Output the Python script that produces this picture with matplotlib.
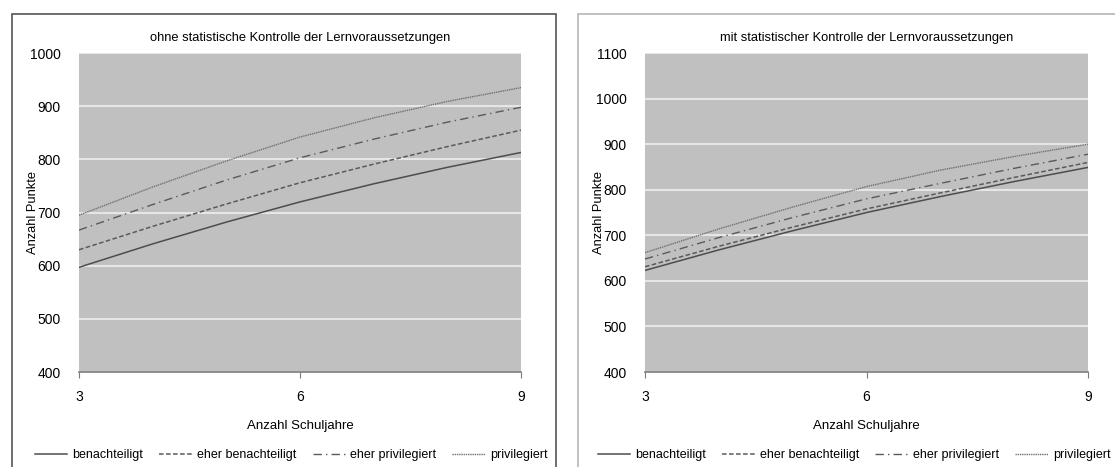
import matplotlib
matplotlib.use('Agg')
import matplotlib.pyplot as plt
from matplotlib.patches import Rectangle

plt.rcParams['font.family'] = ['Liberation Sans', 'DejaVu Sans']

years = [3, 4, 5, 6, 7, 8, 9]
labels = ['benachteiligt', 'eher benachteiligt', 'eher privilegiert', 'privilegiert']

# ohne statistische Kontrolle
left_ben = [597, 641, 682, 720, 754, 785, 813]
left_eben = [630, 674, 716, 756, 791, 824, 855]
left_epriv = [667, 715, 761, 803, 838, 870, 898]
left_priv = [695, 748, 797, 842, 878, 909, 935]

# mit statistischer Kontrolle
right_ben = [623, 668, 710, 750, 785, 818, 849]
right_eben = [631, 676, 718, 758, 793, 827, 860]
right_epriv = [648, 695, 739, 780, 814, 847, 878]
right_priv = [662, 714, 762, 807, 843, 873, 900]

titles = ['ohne statistische Kontrolle der Lernvoraussetzungen',
          'mit statistischer Kontrolle der Lernvoraussetzungen']
ylims = [(400, 1000), (400, 1100)]
legend_x = [0.48, 0.472]

styles = [
    dict(color='#4d4d4d', linestyle='-', linewidth=1.1),
    dict(color='#5a5a5a', linestyle=(0, (3, 1.6)), linewidth=1.1),
    dict(color='#5a5a5a', linestyle=(0, (6, 3, 1, 3)), linewidth=1.0),
    dict(color='#707070', linestyle=(0, (1, 0.6)), linewidth=1.0),
]

fig = plt.figure(figsize=(11.15, 4.67), dpi=100)

# panel frames
fig.patches.append(Rectangle((12 / 1115, -0.1), 544 / 1115, 1.07, transform=fig.transFigure,
                             fill=False, edgecolor='#555555', linewidth=1.2))
fig.patches.append(Rectangle((578 / 1115, -0.1), 0.6, 1.07, transform=fig.transFigure,
                             fill=False, edgecolor='#b5b5b5', linewidth=1.2))

axes = [fig.add_axes([79 / 1115, 0.2034, 442 / 1115, 0.683]),
        fig.add_axes([645 / 1115, 0.2034, 443 / 1115, 0.683])]
data = [[left_ben, left_eben, left_epriv, left_priv],
        [right_ben, right_eben, right_epriv, right_priv]]

for ax, series, title, ylim, lx in zip(axes, data, titles, ylims, legend_x):
    ax.set_facecolor('#c0c0c0')
    for vals, lab, st in zip(series, labels, styles):
        ax.plot(years, vals, label=lab, **st)
    ax.set_xlim(3, 9)
    ax.set_ylim(*ylim)
    ax.set_xticks([3, 6, 9])
    ax.set_yticks(range(ylim[0], ylim[1] + 1, 100))
    ax.yaxis.grid(True, color='#e6e6e6', linewidth=1.5)
    ax.set_axisbelow(True)
    for s in ['left', 'right', 'top']:
        ax.spines[s].set_visible(False)
    ax.spines['bottom'].set_color('#7a7a7a')
    ax.spines['bottom'].set_linewidth(1.2)
    ax.tick_params(axis='x', length=4, color='#7a7a7a', pad=9, labelsize=10)
    ax.tick_params(axis='y', length=0, pad=13, labelsize=10)
    ax.set_title(title, fontsize=9.3, pad=9)
    ax.set_xlabel('Anzahl Schuljahre', fontsize=9.5)
    ax.xaxis.set_label_coords(0.5, -0.15)
    ax.set_ylabel('Anzahl Punkte', fontsize=9.3)
    ax.yaxis.set_label_coords(-0.09, 0.5)
    ax.legend(loc='center', bbox_to_anchor=(lx, -0.26), ncol=4, frameon=False,
              fontsize=9, handlelength=2.6, handletextpad=0.4, columnspacing=1.3)

fig.savefig('out.png', dpi=100)
